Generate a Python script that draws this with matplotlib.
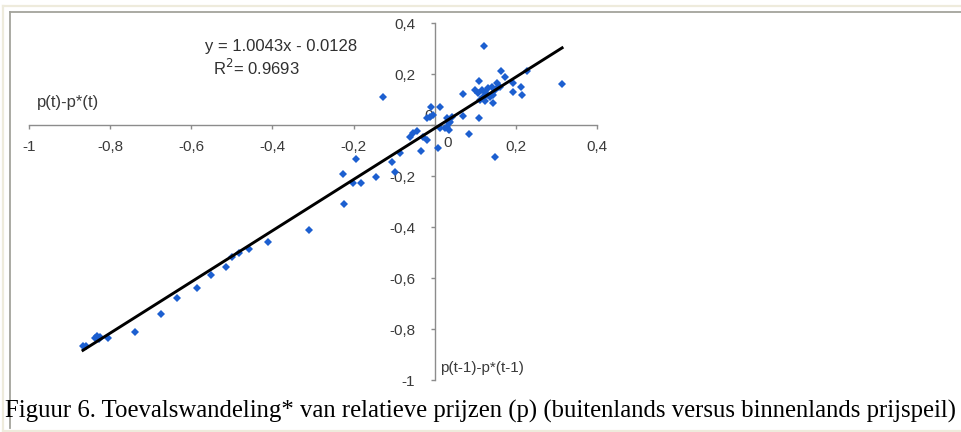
import numpy as np
import matplotlib

matplotlib.use("Agg")
import matplotlib.pyplot as plt
from matplotlib.lines import Line2D

plt.rcParams["font.family"] = ["Liberation Sans", "DejaVu Sans"]

# Data: x = p(t-1)-p*(t-1), y = p(t)-p*(t)
x_vals = [
    -0.867, -0.859, -0.837, -0.832, -0.825, -0.827, -0.805, -0.739, -0.675,
    -0.634, -0.587, -0.552, -0.515, -0.499, -0.482, -0.458, -0.410, -0.309,
    -0.224, -0.227, -0.194, -0.201, -0.182, -0.145, -0.106, -0.098, -0.086,
    -0.061, -0.053, -0.044, -0.035, -0.028, -0.020, -0.020, -0.012, -0.003,
    -0.010, 0.013, 0.008, 0.013, 0.025, 0.030, 0.034, 0.034, 0.038, 0.042,
    0.070, 0.085, 0.070, 0.110, 0.149, 0.122, 0.163, 0.173, 0.227, 0.314,
    0.212, 0.214, 0.192, 0.194, 0.109, 0.099, 0.107, 0.116, 0.124, 0.132,
    0.140, 0.149, 0.153, 0.161, 0.128, 0.136, 0.144, 0.120, 0.112, 0.124,
    0.143, 0.157, -0.127, 0.030,
]
y_vals = [
    -0.865, -0.865, -0.835, -0.827, -0.831, -0.839, -0.834, -0.811, -0.742,
    -0.680, -0.638, -0.588, -0.558, -0.519, -0.503, -0.486, -0.460, -0.412,
    -0.311, -0.193, -0.135, -0.226, -0.226, -0.203, -0.146, -0.185, -0.111,
    -0.047, -0.033, -0.022, -0.102, -0.046, -0.059, 0.026, 0.033, 0.039,
    0.071, 0.072, -0.091, -0.013, -0.013, -0.007, 0.007, -0.020, 0.013, 0.033,
    0.035, -0.035, 0.120, 0.029, -0.127, 0.311, 0.211, 0.189, 0.213, 0.161,
    0.149, 0.118, 0.131, 0.166, 0.173, 0.137, 0.124, 0.137, 0.131, 0.144,
    0.148, 0.137, 0.164, 0.150, 0.118, 0.111, 0.118, 0.111, 0.098, 0.095,
    0.086, 0.150, 0.108, 0.026,
]

slope = 1.0043
intercept = -0.0128
r2 = 0.9693

tick_vals = [-1, -0.8, -0.6, -0.4, -0.2, 0, 0.2, 0.4]
tick_labels = ["-1", "-0,8", "-0,6", "-0,4", "-0,2", "", "0,2", "0,4"]

W, H = 961, 432
fig = plt.figure(figsize=(W / 100, H / 100), dpi=100)
fig.patch.set_facecolor("white")

# page frame (document border around chart and caption)
beige = "#EEEBDC"
grey = "#A4A49C"
fig.add_artist(Line2D([3 / W, 1], [1 - 5.5 / H, 1 - 5.5 / H], transform=fig.transFigure, color=beige, lw=1.6))
fig.add_artist(Line2D([3 / W, 3 / W], [1 - 5.5 / H, 0], transform=fig.transFigure, color=beige, lw=1.6))
fig.add_artist(Line2D([3 / W, 1], [1.5 / H, 1.5 / H], transform=fig.transFigure, color=beige, lw=1.6))
fig.add_artist(Line2D([10 / W, 1], [1 - 11.5 / H, 1 - 11.5 / H], transform=fig.transFigure, color=grey, lw=1.3))
fig.add_artist(Line2D([10 / W, 10 / W], [1 - 11.5 / H, 4 / H], transform=fig.transFigure, color=grey, lw=1.3))

ax = fig.add_axes([29 / W, 1 - 380 / H, (597 - 29) / W, (380 - 23) / H])
ax.set_xlim(-1, 0.4)
ax.set_ylim(-1, 0.4)
ax.patch.set_alpha(0)

axis_col = "#8C8C8C"
lab_col = "#3A3A3A"
ax.spines["left"].set_position(("data", 0))
ax.spines["bottom"].set_position(("data", 0))
ax.spines["right"].set_visible(False)
ax.spines["top"].set_visible(False)
for s in ["left", "bottom"]:
    ax.spines[s].set_color(axis_col)
    ax.spines[s].set_linewidth(1.0)

ax.set_xticks(tick_vals)
ax.set_xticklabels(tick_labels)
ax.set_yticks(tick_vals)
ax.set_yticklabels(tick_labels)
ax.tick_params(axis="x", direction="out", length=3, width=1, color=axis_col,
               labelsize=11, labelcolor=lab_col, pad=8)
ax.tick_params(axis="y", direction="out", length=3, width=1, color=axis_col,
               labelsize=11, labelcolor=lab_col, pad=11)

# the zero labels, nudged off the crossing as in the original
ax.text(0.031, -0.072, "0", fontsize=11, color=lab_col, ha="center", va="center")
ax.text(-0.015, 0.036, "0", fontsize=11, color=lab_col, ha="center", va="center")

ax.plot(x_vals, y_vals, linestyle="", marker="D", ms=4.2, mew=0,
        color="#1C5FD0", zorder=3)

xl = np.array([min(x_vals), max(x_vals)])
ax.plot(xl, slope * xl + intercept, color="black", lw=2.1, zorder=4)

ax.text(-0.566, 0.306, f"y = {slope:.4f}x - {abs(intercept):.4f}", fontsize=12,
        color="#303030", ha="left", va="center")
ax.text(-0.546, 0.224, f"R$^2$= {r2:.4f}", fontsize=12,
        color="#303030", ha="left", va="center")

ax.text(-0.98, 0.088, "p(t)-p*(t)", fontsize=12, color=lab_col, ha="left", va="center")
ax.text(0.013, -0.953, "p(t-1)-p*(t-1)", fontsize=11, color=lab_col, ha="left", va="center")

fig.text(5 / W, 1 - 411 / H,
         "Figuur 6. Toevalswandeling* van relatieve prijzen (p) (buitenlands versus binnenlands prijspeil)",
         fontsize=17.8, family=["Liberation Serif", "DejaVu Serif"], color="black",
         ha="left", va="center")

fig.savefig("out.png", dpi=100)
